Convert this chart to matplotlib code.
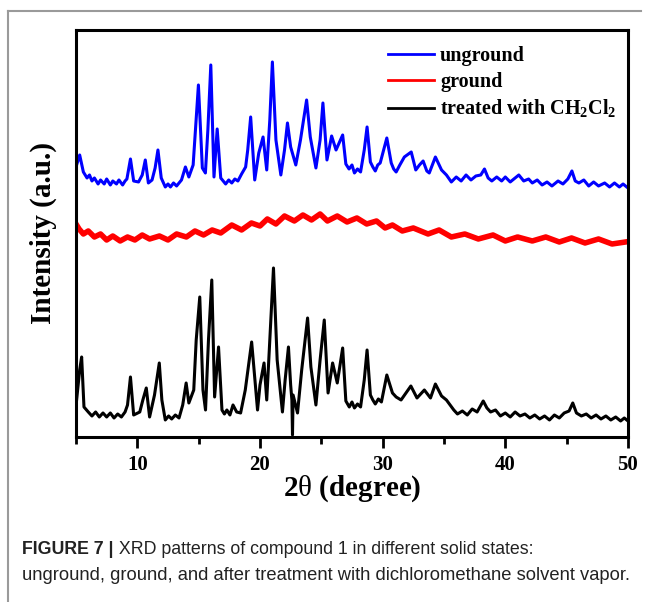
import matplotlib
matplotlib.use("Agg")
import matplotlib.pyplot as plt
from matplotlib.ticker import MultipleLocator
from matplotlib.lines import Line2D

plt.rcParams['font.family'] = 'Liberation Serif'
plt.rcParams['mathtext.fontset'] = 'custom'
plt.rcParams['mathtext.rm'] = 'Liberation Serif'
plt.rcParams['mathtext.bf'] = 'Liberation Serif:bold'

# XRD patterns, intensity in arbitrary units (curves offset as in the figure)
unground_x = [5.05, 5.3, 5.6, 5.9, 6.1, 6.3, 6.5, 6.8, 7.0, 7.3, 7.5, 7.8, 8.0, 8.3, 8.5,
              8.8, 9.0, 9.15, 9.44, 9.7, 10.1, 10.4,
              10.65, 10.9, 11.2, 11.45, 11.68, 11.95, 12.28, 12.5, 12.7, 12.95, 13.2, 13.6,
              13.92, 14.2, 14.55, 14.98, 15.3, 15.55, 15.75, 15.99, 16.25, 16.51, 16.8, 17.0,
              17.2, 17.45, 17.7, 17.95, 18.2, 18.5, 18.83, 19.0, 19.24, 19.57, 19.9, 20.25,
              20.55, 20.8, 21.01, 21.3, 21.7, 22.0, 22.24, 22.5, 22.92, 23.3, 23.8, 24.1,
              24.56, 24.9, 25.13, 25.46, 25.84, 26.2, 26.74, 27.0, 27.26, 27.5, 27.7, 27.95,
              28.2, 28.5, 28.73, 29.0, 29.2, 29.4, 29.6, 29.8, 30.34, 30.7, 30.9, 31.1, 31.4,
              31.77, 32.33, 32.7, 33.0, 33.3, 33.6, 33.8, 34.3, 34.8, 35.2, 35.6, 36.0, 36.4,
              36.8, 37.2, 37.6, 38.0, 38.3, 38.6, 38.9, 39.3, 39.7, 40.0, 40.4, 40.8, 41.1,
              41.5, 41.9, 42.2, 42.6, 43.0, 43.4, 43.8, 44.3, 44.7, 45.1, 45.43, 45.7, 46.0,
              46.4, 46.8, 47.2, 47.6, 48.1, 48.5, 48.9, 49.3, 49.6, 49.9]
unground_y = [272, 282, 265, 259, 262, 256, 259, 253, 257, 253, 258, 252, 256, 253, 257,
              252, 256, 258, 278, 256, 255, 262,
              277, 254, 257, 269, 287, 259, 250, 253, 250, 254, 251, 257,
              270, 260, 272, 352, 269, 264, 307, 372, 260, 308, 259, 256,
              253, 257, 254, 258, 256, 263, 270, 287, 320, 257, 284, 300,
              267, 317, 375, 297, 262, 287, 314, 290, 272, 297, 337, 300,
              269, 297, 334, 277, 301, 287, 302, 273, 268, 272, 264, 268,
              265, 287, 310, 275, 270, 266, 272, 274, 299, 274, 268, 265, 272,
              280, 285, 267, 272, 276, 266, 264, 280, 267, 262, 255, 260, 256,
              262, 257, 261, 262, 268, 259, 256, 260, 256, 260, 255, 259, 262,
              256, 258, 254, 257, 252, 255, 251, 256, 253, 258, 266, 256, 254,
              257, 251, 255, 251, 254, 250, 254, 250, 253, 250]

ground_x = [5.05, 5.25, 5.6, 6.0, 6.5, 7.0, 7.5, 8.0, 8.6, 9.2, 9.8, 10.4, 11.0, 11.8, 12.5,
            13.2, 14.0, 14.7, 15.4, 16.1, 16.8, 17.7, 18.5, 19.3, 20.0, 20.6, 21.3, 22.0,
            22.8, 23.5, 24.2, 24.9, 25.5, 26.3, 27.1, 27.9, 28.7, 29.5, 30.2, 30.8, 31.6,
            32.5, 33.7, 34.6, 35.6, 36.7, 37.8, 39.0, 40.0, 41.0, 42.2, 43.3, 44.4, 45.4,
            46.5, 47.6, 48.7, 49.8]
ground_y = [212, 208, 203, 206, 200, 203, 197, 201, 196, 200, 197, 202, 198, 201, 197,
            203, 200, 206, 202, 207, 204, 212, 207, 214, 211, 218, 213, 221,
            216, 222, 217, 223, 216, 221, 215, 219, 213, 216, 209, 212, 206,
            209, 203, 207, 200, 203, 198, 202, 196, 200, 196, 200, 195, 199,
            194, 198, 193, 195]

treated_x = [5.05, 5.3, 5.46, 5.65, 6.0, 6.3, 6.6, 6.9, 7.2, 7.5, 7.8, 8.1, 8.4, 8.7, 9.0,
             9.2, 9.44, 9.7, 10.2, 10.45,
             10.73, 11.0, 11.4, 11.79, 12.0, 12.28, 12.55, 12.8, 13.1, 13.4, 13.7, 13.98,
             14.2, 14.6, 14.8, 15.09, 15.35, 15.56, 15.8, 16.07, 16.3, 16.62, 16.9, 17.1,
             17.3, 17.55, 17.8, 18.1, 18.42, 18.8, 19.32, 19.8, 20.0, 20.33, 20.55, 20.8,
             21.1, 21.4, 21.83, 22.05, 22.32, 22.5, 22.6, 22.65, 22.7, 23.06, 23.4, 23.88,
             24.15, 24.56, 24.9, 25.24, 25.55, 25.92, 26.3, 26.74, 27.0, 27.28, 27.5, 27.7,
             27.95, 28.2, 28.5, 28.73, 29.0, 29.2, 29.4, 29.65, 29.9, 30.34, 30.8, 31.1,
             31.5, 32.3, 32.8, 33.4, 33.9, 34.3, 34.8, 35.2, 35.8, 36.1, 36.5, 36.9, 37.3,
             37.7, 38.2, 38.5, 38.8, 39.2, 39.6, 40.0, 40.4, 40.8, 41.2, 41.6, 42.0, 42.4,
             42.8, 43.2, 43.6, 44.0, 44.4, 44.8, 45.2, 45.5, 45.8, 46.2, 46.6, 47.0, 47.4,
             47.8, 48.2, 48.6, 49.0, 49.4, 49.7, 50.0]
treated_y = [37, 67, 80, 30, 25, 21, 25, 20, 24, 20, 24, 19, 23, 20, 25,
             32, 60, 22, 25, 37,
             49, 20, 42, 74, 37, 17, 21, 18, 22, 19, 32, 54,
             34, 47, 97, 140, 47, 27, 97, 157, 40, 90, 27, 23,
             27, 22, 32, 25, 24, 47, 95, 27, 52, 74, 37, 97,
             169, 77, 25, 57, 90, 52, 37, 2, 42, 24, 67, 119,
             70, 32, 77, 117, 44, 74, 54, 89, 36, 30, 35, 29,
             33, 30, 57, 87, 42, 37, 33, 38, 35, 62, 44, 40,
             37, 51, 39, 47, 39, 53, 41, 37, 27, 23, 26, 22, 28,
             25, 36, 29, 25, 27, 21, 24, 20, 25, 21, 23, 19, 22,
             18, 21, 17, 22, 19, 24, 26, 34, 24, 21, 23, 19, 22,
             18, 21, 17, 20, 16, 19, 16]

x_ticks = [10, 20, 30, 40, 50]

fig = plt.figure(figsize=(6.49, 6.02), dpi=100)
ax = fig.add_axes([0.1171, 0.2741, 0.8505, 0.6761])

ax.plot(unground_x, unground_y, color='#0000ff', lw=2.2, label='unground')
ax.plot(ground_x, ground_y, color='#ff0000', lw=4, label='ground')
ax.plot(treated_x, treated_y, color='black', lw=2.2,
        label=r'treated with CH$_{\mathbf{2}}$Cl$_{\mathbf{2}}$')

ax.set_xlim(5, 50)
ax.set_ylim(0, 407)
ax.set_xticks(x_ticks)
ax.xaxis.set_minor_locator(MultipleLocator(5))
ax.tick_params(axis='x', which='major', direction='out', length=8, width=2,
               labelsize=15, pad=5)
ax.tick_params(axis='x', which='minor', direction='out', length=5, width=2)
ax.set_yticks([])
for lab in ax.get_xticklabels():
    lab.set_fontweight('bold')
for sp in ax.spines.values():
    sp.set_linewidth(2.2)

ax.set_xlabel(r'2$\mathrm{\theta}$ (degree)', fontsize=21, fontweight='bold', labelpad=-1)
ax.set_ylabel('Intensity (a.u.)', fontsize=21, fontweight='bold', labelpad=14)

leg = ax.legend(loc='upper right', frameon=False, handlelength=2.3,
                handletextpad=0.3, labelspacing=0.3, bbox_to_anchor=(1.012, 1.005),
                prop={'weight': 'bold', 'size': 14.5})
for h in leg.get_lines():
    h.set_linewidth(2)

# outer figure frame
fig.add_artist(Line2D([0.013, 0.013], [0.0, 0.982], color='#9a9a9a', lw=1.5))
fig.add_artist(Line2D([0.013, 0.987], [0.982, 0.982], color='#9a9a9a', lw=1.5))

# caption
cap = dict(family='Liberation Sans', color='#222222')
t1 = fig.text(0.034, 0.080, 'FIGURE 7 |', fontsize=12.8, fontweight='bold',
              va='baseline', **cap)
ax.annotate(' XRD patterns of compound 1 in different solid states:',
            xy=(1, 0), xycoords=t1, va='bottom', ha='left',
            fontsize=12.8, annotation_clip=False, **cap)
fig.text(0.034, 0.037, 'unground, ground, and after treatment with dichloromethane solvent vapor.',
         fontsize=13.2, va='baseline', **cap)

fig.savefig('out.png', dpi=100)
